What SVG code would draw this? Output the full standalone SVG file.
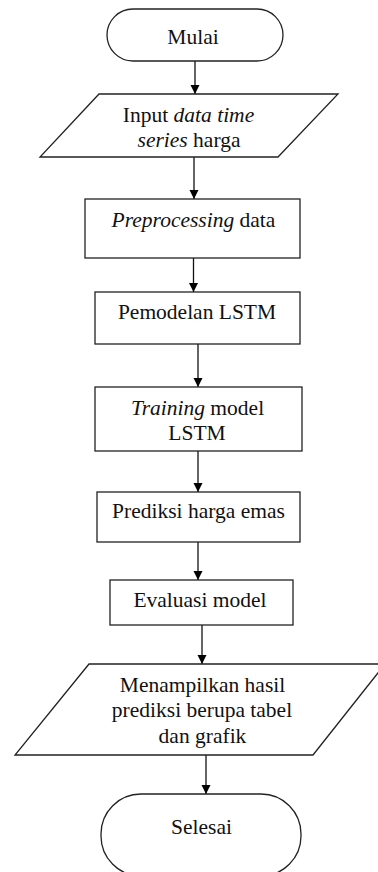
<svg xmlns="http://www.w3.org/2000/svg" width="378" height="872" viewBox="0 0 378 872">
<defs>
<marker id="ah" markerWidth="10" markerHeight="10" refX="9" refY="4.5" orient="auto" markerUnits="userSpaceOnUse">
<path d="M0,0 L9,4.5 L0,9 Z" fill="#000"/>
</marker>
<style>
.s{fill:#fff;stroke:#222;stroke-width:1.3}
text{font-family:'Liberation Serif','Times New Roman','DejaVu Serif',serif;font-size:21.5px;fill:#111;text-anchor:middle}
.c{stroke:#111;stroke-width:1.3;fill:none;marker-end:url(#ah)}
</style>
</defs>
<rect width="378" height="872" fill="#fff"/>
<g id="connectors">
<line class="c" x1="195" y1="61" x2="195" y2="94"/>
<line class="c" x1="194" y1="157" x2="194" y2="199"/>
<line class="c" x1="193.5" y1="258" x2="193.5" y2="292"/>
<line class="c" x1="198" y1="344" x2="198" y2="387"/>
<line class="c" x1="198" y1="451" x2="198" y2="492"/>
<line class="c" x1="198" y1="542" x2="198" y2="580"/>
<line class="c" x1="202" y1="625" x2="202" y2="664"/>
<line class="c" x1="206" y1="755" x2="206" y2="794"/>
</g>
<g id="mulai">
<rect class="s" x="107" y="9" width="176" height="52" rx="26" ry="26"/>
<text x="193" y="44" font-family="Liberation Serif, serif">Mulai</text>
</g>
<g id="input">
<polygon class="s" points="99,94 338,94 278,157 40,157"/>
<text x="188.5" y="122" font-family="Liberation Serif, serif">Input <tspan font-style="italic">data time</tspan></text>
<text x="189" y="147" font-family="Liberation Serif, serif"><tspan font-style="italic">series</tspan> harga</text>
</g>
<g id="preprocessing">
<rect class="s" x="85" y="199" width="215" height="59"/>
<text x="193.5" y="227" font-family="Liberation Serif, serif"><tspan font-style="italic">Preprocessing</tspan> data</text>
</g>
<g id="pemodelan">
<rect class="s" x="95" y="292" width="205" height="52"/>
<text x="197" y="319" font-family="Liberation Serif, serif">Pemodelan LSTM</text>
</g>
<g id="training">
<rect class="s" x="95" y="387" width="207" height="64"/>
<text x="197.5" y="415" font-family="Liberation Serif, serif"><tspan font-style="italic">Training</tspan> model</text>
<text x="197" y="440" font-family="Liberation Serif, serif">LSTM</text>
</g>
<g id="prediksi">
<rect class="s" x="97" y="492" width="203" height="50"/>
<text x="198.5" y="518" font-family="Liberation Serif, serif">Prediksi harga emas</text>
</g>
<g id="evaluasi">
<rect class="s" x="110" y="580" width="183" height="45"/>
<text x="200" y="607" font-family="Liberation Serif, serif">Evaluasi model</text>
</g>
<g id="menampilkan">
<polygon class="s" points="89,664 385,664 313,755 15,755"/>
<text x="202.5" y="692" font-family="Liberation Serif, serif">Menampilkan hasil</text>
<text x="202" y="717" font-family="Liberation Serif, serif">prediksi berupa tabel</text>
<text x="202.5" y="743" font-family="Liberation Serif, serif">dan grafik</text>
</g>
<g id="selesai">
<rect class="s" x="101" y="794" width="200" height="82" rx="40" ry="40"/>
<text x="201.5" y="834" font-family="Liberation Serif, serif">Selesai</text>
</g>
</svg>
